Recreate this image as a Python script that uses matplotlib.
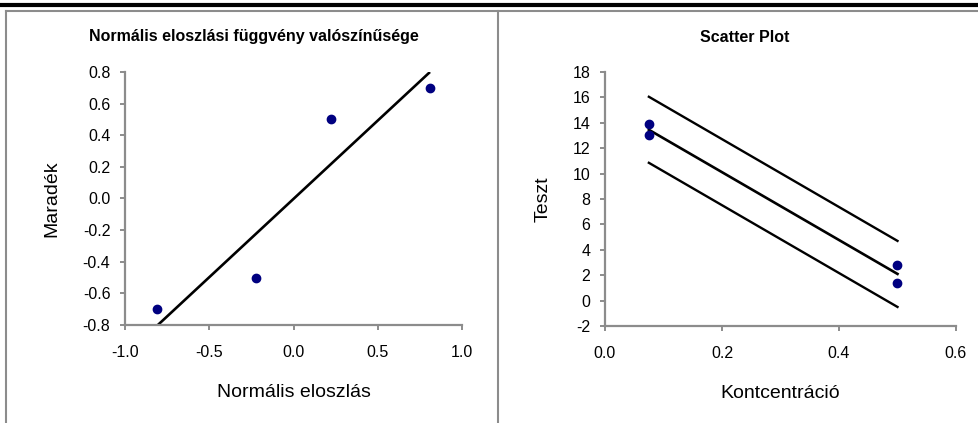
import matplotlib
matplotlib.use("Agg")
import matplotlib.pyplot as plt
from matplotlib.lines import Line2D

plt.rcParams['font.family'] = ['Liberation Sans', 'DejaVu Sans']
plt.rcParams['axes.unicode_minus'] = False

# normal probability plot data
norm_x = [-0.81, -0.22, 0.22, 0.81]
resid = [-0.7, -0.5, 0.5, 0.7]
ref_x = [-0.805, 0.81]
ref_y = [-0.8, 0.8]

# scatter plot data with fit and band
konc = [0.075, 0.075, 0.5, 0.5]
teszt = [13.9, 13.0, 2.8, 1.4]
fit_x = [0.075, 0.5]
fit_y = [13.45, 2.1]
upper_y = [16.05, 4.7]
lower_y = [10.85, -0.5]

left_yticks = [-0.8, -0.6, -0.4, -0.2, 0.0, 0.2, 0.4, 0.6, 0.8]
left_xticks = [-1.0, -0.5, 0.0, 0.5, 1.0]
right_yticks = list(range(-2, 19, 2))
right_xticks = [0.0, 0.2, 0.4, 0.6]

W, H = 979, 423
fig = plt.figure(figsize=(W / 100, H / 100), dpi=100)

gray = '#8c8c8c'
navy = '#000080'


def px(x0, y0, x1, y1):
    return [x0 / W, 1 - y1 / H, (x1 - x0) / W, (y1 - y0) / H]


def style(ax):
    for s in ['top', 'right']:
        ax.spines[s].set_visible(False)
    for s in ['left', 'bottom']:
        ax.spines[s].set_color(gray)
        ax.spines[s].set_linewidth(1.6)
    ax.tick_params(axis='both', direction='out', length=3.5, width=1.4,
                   color=gray, labelsize=11.5, labelcolor='black')
    ax.tick_params(axis='y', pad=7)
    ax.tick_params(axis='x', pad=11)


ax1 = fig.add_axes(px(125, 72, 462, 325))
ax1.plot(ref_x, ref_y, color='black', lw=1.9, solid_capstyle='butt', zorder=2)
ax1.plot(norm_x, resid, 'o', color=navy, ms=6, zorder=3, clip_on=False)
ax1.set_xlim(-1.0, 1.0)
ax1.set_ylim(-0.8, 0.8)
ax1.set_xticks(left_xticks)
ax1.set_yticks(left_yticks)
ax1.set_xticklabels([f'{v:.1f}' for v in left_xticks])
ax1.set_yticklabels([f'{v:.1f}' for v in left_yticks])
style(ax1)
ax1.set_xlabel('Normális eloszlás', fontsize=14, labelpad=17)
ax1.set_ylabel('Maradék', fontsize=14, labelpad=16)

ax2 = fig.add_axes(px(605, 72, 956, 326))
ax2.plot(fit_x, upper_y, color='black', lw=1.7)
ax2.plot(fit_x, lower_y, color='black', lw=1.7)
ax2.plot(fit_x, fit_y, color='black', lw=1.9)
ax2.plot(konc, teszt, 'o', color=navy, ms=6, zorder=3)
ax2.set_xlim(0.0, 0.6)
ax2.set_ylim(-2, 18)
ax2.set_xticks(right_xticks)
ax2.set_yticks(right_yticks)
ax2.set_xticklabels([f'{v:.1f}' for v in right_xticks])
ax2.set_yticklabels([str(v) for v in right_yticks])
style(ax2)
ax2.set_xlabel('Kontcentráció', fontsize=14, labelpad=17)
ax2.set_ylabel('Teszt', fontsize=14, labelpad=15)

fig.text(254 / W, 1 - 37 / H, 'Normális eloszlási függvény valószínűsége',
         ha='center', va='center', fontsize=11.5, fontweight='bold')
fig.text(745 / W, 1 - 37 / H, 'Scatter Plot',
         ha='center', va='center', fontsize=11.5, fontweight='bold')

# panel frame and header rule
fig.add_artist(Line2D([0, 1], [1 - 5.5 / H, 1 - 5.5 / H], color='black', lw=3))
fig.add_artist(Line2D([6 / W, 1], [1 - 11 / H, 1 - 11 / H], color=gray, lw=1.5))
fig.add_artist(Line2D([6 / W, 6 / W], [0, 1 - 11 / H], color=gray, lw=1.5))
fig.add_artist(Line2D([498 / W, 498 / W], [0, 1 - 11 / H], color=gray, lw=1.5))

fig.savefig('out.png', dpi=100)
